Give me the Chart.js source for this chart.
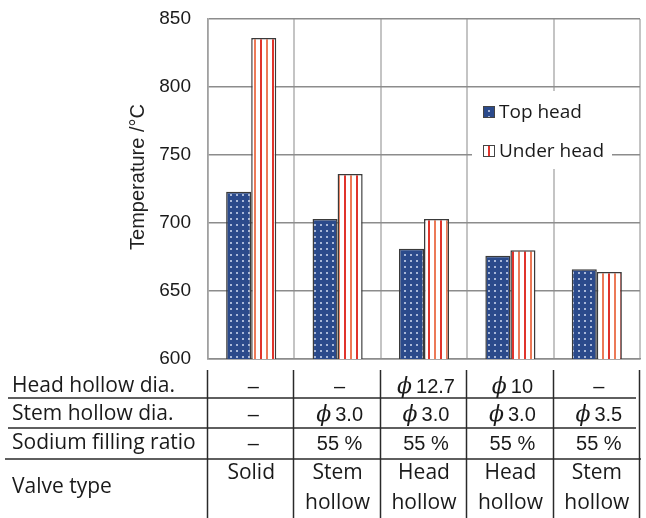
<!DOCTYPE html>
<html>
<head>
<meta charset="utf-8">
<script src="https://cdn.jsdelivr.net/npm/chart.js@4.4.0/dist/chart.umd.min.js"></script>
<style>
  html, body { margin: 0; padding: 0; background: #fff; }
  #wrap { width: 646px; height: 518px; position: relative; }
</style>
</head>
<body>
<div id="wrap"><canvas id="tempChart"></canvas></div>
<script>
// values
const valveTypes = ['Solid', 'Stem hollow', 'Head hollow', 'Head hollow', 'Stem hollow'];
const topHead = [723, 703, 681, 676, 666];
const underHead = [836, 736, 703, 680, 664];
const headHollowDia = ['–', '–', 'ϕ12.7', 'ϕ10', '–'];
const stemHollowDia = ['–', 'ϕ3.0', 'ϕ3.0', 'ϕ3.0', 'ϕ3.5'];
const sodiumRatio = ['–', '55 %', '55 %', '55 %', '55 %'];
const rowLabels = ['Head hollow dia.', 'Stem hollow dia.', 'Sodium filling ratio', 'Valve type'];
const yTicks = [600, 650, 700, 750, 800, 850];
const yTitle = 'Temperature /°C';

const canvas = document.getElementById('tempChart');
const ctx = canvas.getContext('2d');

function makeDots() {
    const c = document.createElement('canvas');
    c.width = 6; c.height = 6;
    const g = c.getContext('2d');
    g.fillStyle = '#2b4a8b';
    g.fillRect(0, 0, 6, 6);
    g.fillStyle = '#a9b8d8';
    g.fillRect(2, 2, 2, 2);
    return ctx.createPattern(c, 'repeat');
}

function makeStripes() {
    const c = document.createElement('canvas');
    c.width = 12; c.height = 4;
    const g = c.getContext('2d');
    g.fillStyle = '#ffffff';
    g.fillRect(0, 0, 12, 4);
    g.fillStyle = '#ec7a58';
    g.fillRect(2, 0, 2, 4);
    g.fillStyle = '#e0342c';
    g.fillRect(8, 0, 2, 4);
    return ctx.createPattern(c, 'repeat');
}

const dots = makeDots();
const stripes = makeStripes();

// y title drawn by hand so it can sit a bit above the middle like the original
const sideTitle = {
    id: 'sideTitle',
    afterDraw(chart) {
        const c = chart.ctx;
        c.save();
        c.translate(138, 177);
        c.rotate(-Math.PI / 2);
        c.fillStyle = '#222';
        c.font = '20px "Liberation Sans", Arial';
        c.textAlign = 'center';
        c.textBaseline = 'middle';
        c.fillText(yTitle, 0, 0);
        c.restore();
    }
};

// legend drawn inside the plot, over a white box
const boxLegend = {
    id: 'boxLegend',
    afterDraw(chart) {
        const c = chart.ctx;
        c.save();
        c.fillStyle = '#fff';
        c.fillRect(472, 91, 140, 78);
        chart.data.datasets.forEach((ds, i) => {
            const y = 112 + i * 39;
            c.fillStyle = ds.backgroundColor;
            c.fillRect(483, y - 6, 12, 12);
            c.strokeStyle = '#444';
            c.lineWidth = 1;
            c.strokeRect(483.5, y - 5.5, 11, 11);
            c.fillStyle = '#1a1a1a';
            c.font = '19px "Open Sans"';
            c.textBaseline = 'middle';
            c.textAlign = 'left';
            c.fillText(ds.label, 499, y + 1);
        });
        c.restore();
    }
};

function drawCell(c, t, cx, cy) {
    const numFont = '20px "Liberation Sans", Arial';
    if (t.startsWith('ϕ')) {
        const rest = t.slice(1);
        c.font = 'italic 22px "DejaVu Serif"';
        const pw = c.measureText('ϕ').width;
        c.font = numFont;
        const rw = c.measureText(rest).width;
        const gap = 4;
        const x0 = cx - (pw + gap + rw) / 2;
        c.textAlign = 'left';
        c.font = 'italic 22px "DejaVu Serif"';
        c.fillText('ϕ', x0, cy);
        c.font = numFont;
        c.fillText(rest, x0 + pw + gap, cy);
    } else {
        c.textAlign = 'center';
        c.font = numFont;
        c.fillText(t, cx, cy);
    }
}

// condition table under the x axis, columns follow the category scale
const valveTable = {
    id: 'valveTable',
    afterDraw(chart) {
        const c = chart.ctx;
        const area = chart.chartArea;
        const x = chart.scales.x;
        const n = valveTypes.length;
        const colW = (area.right - area.left) / n;
        c.save();
        c.strokeStyle = '#2a2a2a';
        c.lineWidth = 1.5;
        for (let i = 0; i <= n; i++) {
            const px = Math.round(area.left + i * colW) - 0.5;
            c.beginPath();
            c.moveTo(px, 370);
            c.lineTo(px, 518);
            c.stroke();
        }
        [[398, 636, 8], [428, 636, 8], [459, 641, 5]].forEach(([py, end, start]) => {
            c.beginPath();
            c.moveTo(start, py);
            c.lineTo(end, py);
            c.stroke();
        });

        c.fillStyle = '#1a1a1a';
        c.font = '21px "Open Sans"';
        c.textBaseline = 'middle';
        c.textAlign = 'left';
        const rowY = [386, 414, 443, 487];
        rowLabels.forEach((t, r) => c.fillText(t, 12, rowY[r]));

        [headHollowDia, stemHollowDia, sodiumRatio].forEach((row, r) => {
            row.forEach((t, i) => drawCell(c, t, x.getPixelForValue(i) + 2, rowY[r] + 1));
        });
        c.font = '21px "Open Sans"';
        c.textAlign = 'center';
        valveTypes.forEach((t, i) => {
            const words = t.split(' ');
            words.forEach((w, k) => c.fillText(w, x.getPixelForValue(i), 473 + k * 30));
        });
        c.restore();
    }
};

new Chart(ctx, {
    type: 'bar',
    data: {
        labels: valveTypes,
        datasets: [{
            label: 'Top head',
            data: topHead,
            backgroundColor: dots,
            borderColor: '#3a3a3a',
            borderWidth: 1.5,
            categoryPercentage: 0.58,
            barPercentage: 1.0
        }, {
            label: 'Under head',
            data: underHead,
            backgroundColor: stripes,
            borderColor: '#3a3a3a',
            borderWidth: 1.5,
            categoryPercentage: 0.58,
            barPercentage: 1.0
        }]
    },
    options: {
        responsive: true,
        maintainAspectRatio: false,
        animation: false,
        layout: { padding: { left: 122, right: 6, top: 19, bottom: 159 } },
        plugins: {
            legend: { display: false },
            tooltip: { enabled: false }
        },
        scales: {
            x: {
                ticks: { display: false },
                grid: { color: '#c4c4c4', lineWidth: 2, drawTicks: false, offset: true },
                border: { color: '#8c8c8c', width: 1.5 }
            },
            y: {
                min: yTicks[0],
                max: yTicks[yTicks.length - 1],
                afterFit: function(scale) {
                    scale.width = 86;
                    scale.paddingTop = 0;
                    scale.paddingBottom = 0;
                },
                afterBuildTicks: function(scale) {
                    scale.ticks = yTicks.map(v => ({ value: v }));
                },
                ticks: {
                    padding: 17,
                    color: '#1a1a1a',
                    font: { family: '"Liberation Sans", Arial', size: 19 }
                },
                grid: { color: '#8c8c8c', lineWidth: 1.5, drawTicks: false },
                border: { color: '#a0a0a0', width: 1.5 }
            }
        }
    },
    plugins: [sideTitle, boxLegend, valveTable]
});
</script>
</body>
</html>
